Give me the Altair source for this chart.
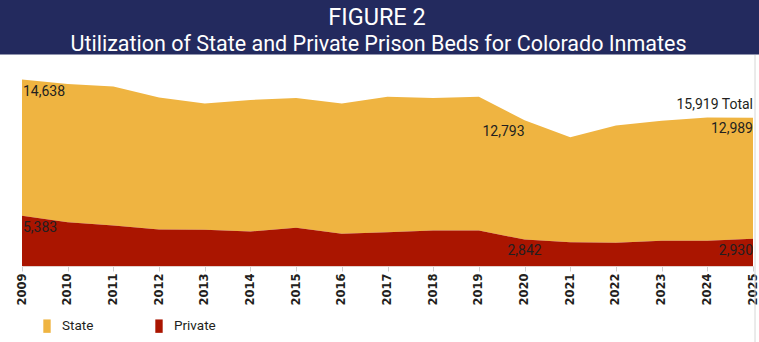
import altair as alt
import pandas as pd

years = list(range(2009, 2026))
state = [14638, 14840, 14930, 14180, 13570, 14120, 13940, 14000, 14550,
         14225, 14365, 12793, 11260, 12575, 12900, 13250, 12989]
private = [5383, 4695, 4340, 3915, 3880, 3700, 4095, 3450, 3625,
           3805, 3805, 2842, 2550, 2490, 2700, 2700, 2930]
series_names = ["State", "Private"]
series_colors = ["#EFB441", "#AA1500"]
fig_label = "FIGURE 2"
fig_title = "Utilization of State and Private Prison Beds for Colorado Inmates"

wide = pd.DataFrame({"year": years, "state": state, "private": private})
wide["total"] = wide["state"] + wide["private"]
long = pd.concat([
    pd.DataFrame({"year": years, "series": "State", "value": state}),
    pd.DataFrame({"year": years, "series": "Private", "value": private}),
])

TXT = "#231f20"
FONT = "Roboto"

xenc = alt.X("year:Q",
             scale=alt.Scale(domain=[2009, 2025], nice=False, zero=False),
             axis=alt.Axis(values=years, format="d", labelAngle=-90, title=None,
                           labelFont="DejaVu Sans", labelFontWeight="bold",
                           labelFontSize=11.5, labelColor=TXT, labelPadding=2,
                           labelOverlap=False, labelFlush=False, labelBound=False,
                           tickColor="#cfcfcf", tickSize=5, domainColor="#e3cfcb",
                           grid=False))
yscale = alt.Scale(domain=[0, 22000], nice=False)

area = alt.Chart(long).transform_calculate(
    ord="datum.series == 'Private' ? 0 : 1"
).mark_area(opacity=1).encode(
    x=xenc,
    y=alt.Y("value:Q", stack="zero", scale=yscale, axis=None),
    color=alt.Color("series:N",
                    scale=alt.Scale(domain=series_names, range=series_colors),
                    legend=alt.Legend(orient="none", legendX=18, legendY=258,
                                      direction="horizontal", title=None,
                                      symbolType="M-0.55,-1L0.55,-1L0.55,1L-0.55,1Z",
                                      symbolSize=180, symbolStrokeWidth=0,
                                      labelFont=FONT, labelFontSize=13.5,
                                      labelColor=TXT, labelOffset=8,
                                      columnPadding=58, padding=0)),
    order=alt.Order("ord:Q"),
)

base = alt.Chart(wide)


def lab(year, field, align, dy, dx=0, text_field=None):
    tf = text_field or field
    return base.transform_filter(alt.datum.year == year).mark_text(
        align=align, baseline="middle", dy=dy, dx=dx, font=FONT,
        fontSize=14, color=TXT
    ).encode(x=xenc, y=alt.Y(f"{field}:Q", scale=yscale, axis=None),
             text=alt.Text(f"{tf}:Q", format=","))


labels = [
    lab(2009, "total", "left", 12.5, dx=1, text_field="state"),
    lab(2009, "private", "left", 12, dx=1),
    lab(2020, "total", "right", 11.5, text_field="state"),
    lab(2020, "private", "center", 11.5),
    lab(2025, "total", "right", 11.5, text_field="state"),
    lab(2025, "private", "right", 12.3),
]
total_lab = base.transform_filter(alt.datum.year == 2025).transform_calculate(
    lbl="format(datum.total, ',') + ' Total'"
).mark_text(align="right", baseline="middle", dy=-12.5, font=FONT,
            fontSize=14, color=TXT).encode(
    x=xenc, y=alt.Y("total:Q", scale=yscale, axis=None), text="lbl:N")

one = alt.Data(values=[{"k": 0}])
banner = alt.Chart(one).mark_rect(color="#232A5E").encode(
    x=alt.value(-22), x2=alt.value(737), y=alt.value(-61), y2=alt.value(-6.5))
t1 = alt.Chart(one).mark_text(text=fig_label, font=FONT, fontSize=23.5,
                              color="#ffffff", align="center",
                              baseline="alphabetic").encode(
    x=alt.value(355), y=alt.value(-36))
t2 = alt.Chart(one).mark_text(text=fig_title, font=FONT, fontSize=21.5,
                              color="#ffffff", align="center",
                              baseline="alphabetic").encode(
    x=alt.value(356.5), y=alt.value(-10))
right_line = alt.Chart(one).mark_rule(color="#d6d6d6").encode(
    x=alt.value(733), y=alt.value(-6), y2=alt.value(281))

chart = alt.layer(area, *labels, total_lab, banner, t1, t2, right_line).properties(
    width=731, height=205,
    padding={"left": 22, "top": 61, "right": 6, "bottom": 76},
    autosize=alt.AutoSizeParams(type="none"),
    background="#ffffff",
).configure_view(stroke=None)

chart.save("out.html", embed_options={"renderer": "svg", "actions": False})
